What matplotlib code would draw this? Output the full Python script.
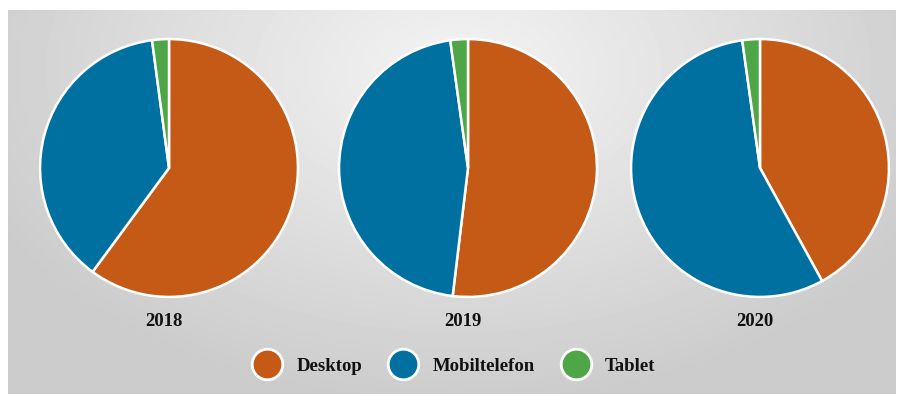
import numpy as np
import matplotlib
matplotlib.use("Agg")
import matplotlib.pyplot as plt
from matplotlib.lines import Line2D

years = ["2018", "2019", "2020"]
categories = ["Desktop", "Mobiltelefon", "Tablet"]
desktop = [60.1, 51.9, 42.0]
mobile = [37.8, 45.9, 55.8]
tablet = [2.1, 2.2, 2.2]
colors = ["#c55a17", "#0070a0", "#4fa646"]

W, H = 904, 401
fig = plt.figure(figsize=(W / 100, H / 100), dpi=100)
fig.patch.set_facecolor("white")

# grey panel with radial gradient
bg = fig.add_axes([8 / W, 1 - 394 / H, 888 / W, 384 / H])
yy, xx = np.mgrid[0:384, 0:888]
d = np.sqrt(((xx - 450) / 520.0) ** 2 + ((yy - 60) / 330.0) ** 2)
d = np.clip(d, 0, 1)
light, dark = 0.955, 0.80
img = light - (light - dark) * d
bg.imshow(img, cmap="gray", vmin=0, vmax=1, aspect="auto", interpolation="bilinear")
bg.axis("off")

centers = [169, 468, 760]
r = 129
for i, cx in enumerate(centers):
    ax = fig.add_axes([(cx - r - 2) / W, 1 - (168 + r + 2) / H, (2 * r + 4) / W, (2 * r + 4) / H])
    vals = [desktop[i], mobile[i], tablet[i]]
    ax.pie(vals, colors=colors, startangle=90, counterclock=False,
           wedgeprops=dict(edgecolor="white", linewidth=1.8))
    ax.set_xlim(-1.016, 1.016)
    ax.set_ylim(-1.016, 1.016)
    ax.set_aspect("equal")
    ax.axis("off")
    fig.text(cx / W - 5 / W, 1 - 322 / H, years[i], ha="center", va="center",
             fontsize=13.5, fontweight="bold", family="Liberation Serif", color="#111111")

handles = [Line2D([], [], marker="o", linestyle="none", markersize=22,
                  markerfacecolor=c, markeredgecolor="white", markeredgewidth=2)
           for c in colors]
leg = fig.legend(handles, categories, loc="center", bbox_to_anchor=(452 / W, 1 - 366 / H),
                 ncol=3, frameon=False, handletextpad=0.55, columnspacing=1.2,
                 prop=dict(family="Liberation Serif", weight="bold", size=13.5))
for t in leg.get_texts():
    t.set_color("#111111")

fig.savefig("out.png", dpi=100)
